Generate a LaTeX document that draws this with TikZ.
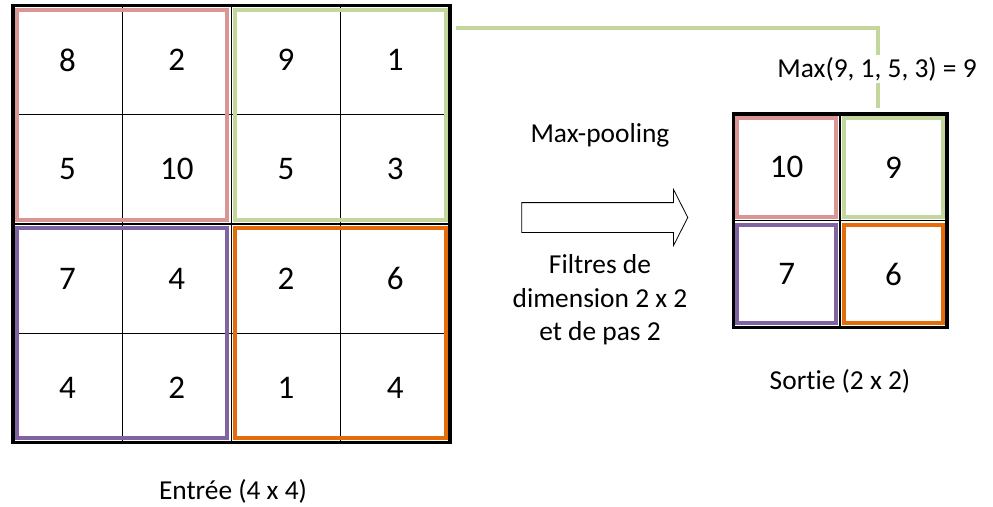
\documentclass[tikz,border=0pt]{standalone}
\usepackage{fontspec}
\setmainfont{Carlito}[Ligatures=NoCommon]
\usepackage{tikz}
\usetikzlibrary{positioning, fit, shapes.arrows}
\definecolor{poolpink}{RGB}{217,150,148}
\definecolor{poolgreen}{RGB}{195,214,155}
\definecolor{poolpurple}{RGB}{128,100,162}
\definecolor{poolorange}{RGB}{228,108,10}
\tikzstyle{cell} = [rectangle, draw=black, line width=1.2pt, minimum size=109.2pt, inner sep=0pt, outer sep=0pt, font=\fontsize{33}{40}\selectfont]
\tikzstyle{outcell} = [cell, node distance=106.7pt, minimum size=106.7pt]
\tikzstyle{frame} = [rectangle, draw=black, line width=3.5pt, inner sep=0pt, outer sep=0pt]
\tikzstyle{window} = [rectangle, line width=4pt, inner sep=-4pt, outer sep=0pt]
\tikzstyle{caption} = [font=\fontsize{27.4}{33.5}\selectfont, align=center, inner sep=1pt]
\tikzstyle{link} = [line width=3.5pt, draw=poolgreen]
\tikzstyle{poolarrow} = [single arrow, draw=black, line width=0.8pt, minimum height=166pt, inner xsep=0pt, inner ysep=14.5pt, single arrow head extend=13pt, single arrow tip angle=126, single arrow head indent=0pt]

\begin{document}
\begin{tikzpicture}[x=1pt, y=-1pt, node distance=109.2pt]
\useasboundingbox (0,0) rectangle (993,506);

% input 4 x 4
\node (c11) [cell] at (67.6,60.1) {8};
\node (c12) [cell, right of=c11] {2};
\node (c13) [cell, right of=c12] {9};
\node (c14) [cell, right of=c13] {1};
\node (c21) [cell, below of=c11] {5};
\node (c22) [cell, right of=c21] {10};
\node (c23) [cell, right of=c22] {5};
\node (c24) [cell, right of=c23] {3};
\node (c31) [cell, below of=c21] {7};
\node (c32) [cell, right of=c31] {4};
\node (c33) [cell, right of=c32] {2};
\node (c34) [cell, right of=c33] {6};
\node (c41) [cell, below of=c31] {4};
\node (c42) [cell, right of=c41] {2};
\node (c43) [cell, right of=c42] {1};
\node (c44) [cell, right of=c43] {4};

\node (winPink) [window, draw=poolpink, fit=(c11)(c22)] {};
\node (winGreen) [window, draw=poolgreen, fit=(c13)(c24)] {};
\node (winPurple) [window, draw=poolpurple, fit=(c31)(c42)] {};
\node (winOrange) [window, draw=poolorange, fit=(c33)(c44)] {};
\node (inFrame) [frame, fit=(c11)(c44)] {};

% output 2 x 2
\node (o11) [outcell] at (786.7,167.4) {10};
\node (o12) [outcell, right of=o11] {9};
\node (o21) [outcell, below of=o11] {7};
\node (o22) [outcell, right of=o21] {6};

\node (outPink) [window, draw=poolpink, fit=(o11)] {};
\node (outGreen) [window, draw=poolgreen, fit=(o12)] {};
\node (outPurple) [window, draw=poolpurple, fit=(o21)] {};
\node (outOrange) [window, draw=poolorange, fit=(o22)] {};
\node (outFrame) [frame, fit=(o11)(o22)] {};

% max of the green window
\coordinate (lineStart) at (456,28);
\coordinate (lineEnd) at (878,108);
\draw [link] (lineStart) -| (lineEnd);
\node (maxLabel) [caption, fill=white, inner sep=2pt] at (877,69) {Max(9, 1, 5, 3) = 9};

\node (poolArrow) [poolarrow] at (601,217.5) {};
\node (poolName) [caption] at (600,135) {Max-pooling};
\node (filterText) [caption] at (600,300) {Filtres de\\dimension 2 x 2\\et de pas 2};
\node (outName) [caption] at (840,381) {Sortie (2 x 2)};
\node (inName) [caption] at (233,491) {Entrée (4 x 4)};
\end{tikzpicture}
\end{document}
